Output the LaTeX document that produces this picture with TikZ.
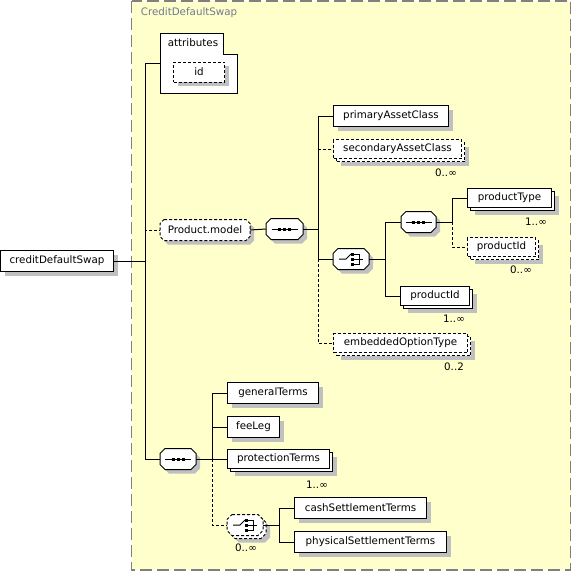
\documentclass[tikz,border=0pt]{standalone}
\usepackage{fontspec}
\setmainfont{DejaVu Sans}
\usetikzlibrary{shadows}
\definecolor{groupfill}{RGB}{255,255,204}
\definecolor{groupline}{RGB}{128,128,128}
\definecolor{grouptext}{RGB}{112,120,140}
\definecolor{shade}{RGB}{192,192,192}

\begin{document}
\begin{tikzpicture}
    [x=1pt,y=-1pt,line width=1pt,font=\fontsize{10.3}{12}\selectfont,
     opt/.style={dash pattern=on 3pt off 2pt},
     onebox/.style={fill=white,
       general shadow={shadow xshift=4pt,shadow yshift=-4pt,fill=shade}},
     twobox/.style={fill=white,
       general shadow={shadow xshift=7pt,shadow yshift=-7pt,fill=shade},
       general shadow={shadow xshift=3pt,shadow yshift=-3pt,fill=white,draw=black,#1}},
     twobox/.default=solid,
     optone/.style={onebox,opt},
     opttwo/.style={twobox=opt,opt},
     elem/.style={draw,onebox,anchor=west,inner sep=0pt,minimum height=21pt},
     multi/.style={draw,twobox=#1,anchor=west,inner sep=0pt,minimum height=19pt},
     multi/.default=solid,
     comp/.style={anchor=west,inner sep=0pt,minimum height=20pt}]

    \useasboundingbox (0,0) rectangle (572,571);
    \draw[draw=groupline,line width=1.5pt,dash pattern=on 12pt off 5pt,fill=groupfill]
      (131.5,0.75) rectangle (570.5,570);
    \node[anchor=west,text=grouptext] (title) at (137,13) {CreditDefaultSwap};

    \node[anchor=north west,minimum width=76pt,minimum height=59pt,inner sep=0pt] (attr) at (160,33) {};
    \draw[fill=white] (attr.north west) -- ++(63,0) -- ++(0,21) -| (attr.south east) -- (attr.south west) -- cycle;
    \node[anchor=west] (attr-t) at (164,43) {attributes};
    \node[elem,opt,minimum width=51pt,minimum height=20pt] (id) at (173,72) {id};

    \foreach \name/\x/\y/\w/\txt in {cds/0/261/113/creditDefaultSwap, pac/333/116/115/primaryAssetClass,
        gt/227/393/91/generalTerms, fl/227/427/52/feeLeg,
        cash/294/508/132/cashSettlementTerms, phys/294/542/152/physicalSettlementTerms}
      \node[elem,minimum width=\w pt] (\name) at (\x,\y) {\txt};

    \foreach \name/\x/\y/\w/\txt in {pt/467/198/84/productType, pid2/400/296/69/productId,
        ptm/227/459/102/protectionTerms}
      \node[multi,minimum width=\w pt] (\name) at (\x,\y) {\txt};

    \foreach \name/\x/\y/\w/\txt in {sac/333/149/128/secondaryAssetClass, pid1/467/247/68/productId,
        emb/333/343/134/embeddedOptionType}
      \node[multi=opt,opt,minimum width=\w pt] (\name) at (\x,\y) {\txt};

    \foreach \name/\x/\y/\w in {pm/160/230/89, s1/266/229/36, s2/401/222/34, c1/333/259/35,
        s3/160/459/35, c2/227/525/35}
      \node[comp,minimum width=\w pt] (\name) at (\x,\y) {};

    \foreach \c/\k/\look in {pm/4/optone, s1/5/onebox, s2/5/onebox, c1/5/onebox,
        s3/5/onebox, c2/5/opttwo}
      \draw[\look] ([xshift=\k pt]\c.north west) -- ([xshift=-\k pt]\c.north east)
        -- ([yshift=-\k pt]\c.north east) -- ([yshift=\k pt]\c.south east)
        -- ([xshift=-\k pt]\c.south east) -- ([xshift=\k pt]\c.south west)
        -- ([yshift=\k pt]\c.south west) -- ([yshift=-\k pt]\c.north west) -- cycle;
    \node (pm-t) at (pm.center) {Product.model};

    \foreach \c in {s1,s2,s3} {
      \draw (\c.center) ++(-13,0) -- ++(26,0);
      \foreach \dx in {-5,0,5}
        \fill (\c.center) ++(\dx,0) ++(-1.5,-1.5) rectangle ++(3,3);
    }
    \foreach \c in {c1,c2} {
      \draw (\c.center) ++(-12,0) -- ++(7,0) -- ++(5,-5);
      \foreach \dy in {-5,0,5}
        \fill (\c.center) ++(1,\dy) ++(-1.5,-1.5) rectangle ++(3,3);
      \draw (\c.center) ++(3,-5) -| ++(5,10) -- ++(-5,0);
      \draw (\c.center) ++(3,0) -- ++(9,0);
    }

    \foreach \name/\x/\y/\txt in {m-sac/446/173/{0..∞}, m-pt/536/222/{1..∞}, m-pid1/521/270/{0..∞},
        m-pid2/454/319/{1..∞}, m-emb/454/367/{0..2}, m-ptm/317/485/{1..∞}, m-c2/246/548/{0..∞}}
      \node (\name) at (\x,\y) {\txt};

    \coordinate (b0) at (145,261);
    \coordinate (b1) at (318,229);
    \coordinate (b2) at (385,259);
    \coordinate (b3) at (452,222);
    \coordinate (b4) at (212,459);
    \coordinate (b5) at (279,525);

    \foreach \bus/\to in {b0/pm, b1/sac, b1/emb, b3/pid1, b4/c2}
      \draw[opt] (\bus) |- (\to.west);
    \foreach \from/\bus in {cds/b0, s1/b1, c1/b2, s2/b3, s3/b4, c2/b5}
      \draw (\from.east) -- (\bus);
    \draw (pm.east) -- (s1.west);
    \foreach \bus/\to in {b0/attr, b0/s3, b1/pac, b1/c1, b2/s2, b2/pid2, b3/pt,
        b4/gt, b4/fl, b4/ptm, b5/cash, b5/phys}
      \draw (\bus) |- (\to.west);
  \end{tikzpicture}
\end{document}
